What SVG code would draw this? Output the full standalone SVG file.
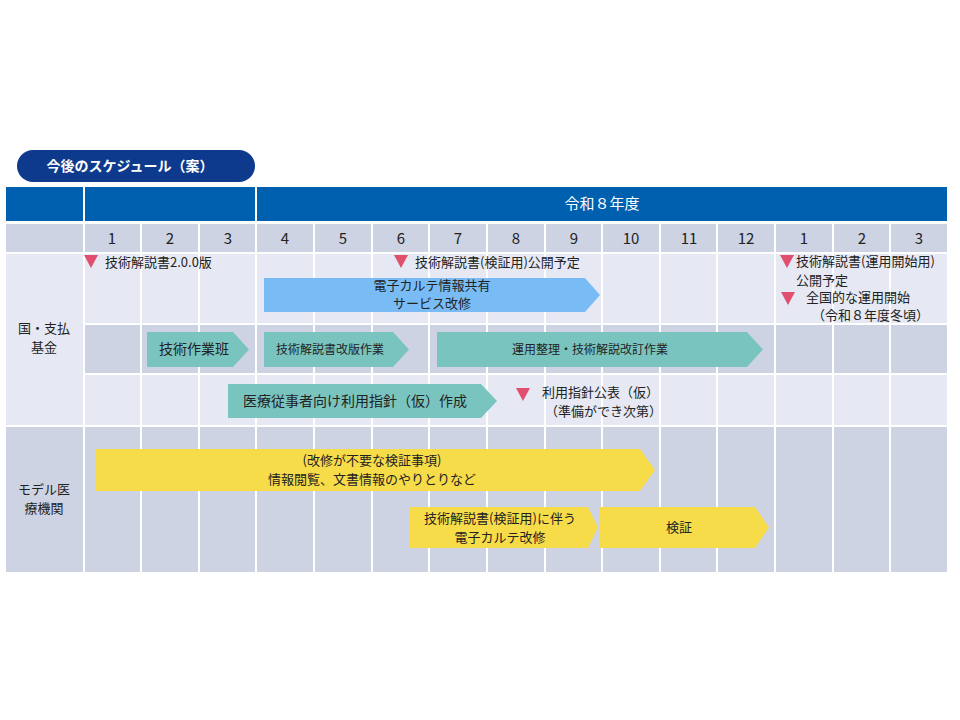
<svg xmlns="http://www.w3.org/2000/svg" width="960" height="720" viewBox="0 0 960 720">
<style>
text{font-family:"Noto Sans CJK JP","Noto Sans",sans-serif;fill:#222;font-size:13px}
.m{font-size:15px;text-anchor:middle}
.c{text-anchor:middle}
.lt{fill:#e6e9f3}.dk{fill:#cdd3e3}
.teal{fill:#7ac4c0}.yel{fill:#f7dc4a}.blu{fill:#79bcf5}.tri{fill:#e0506e}
</style>
<rect width="960" height="720" fill="#fff"/>
<g id="title"><rect x="17" y="150" width="238" height="32" rx="16" fill="#0d3a8c"/><text x="130" y="171" class="c" style="fill:#fff;font-weight:bold;font-size:14px">今後のスケジュール（案）</text></g>
<g id="grid">
<rect x="6" y="187" width="77" height="34" fill="#0060b0"/><rect x="85" y="187" width="170" height="34" fill="#0060b0"/><rect x="257" y="187" width="690" height="34" fill="#0060b0"/>
<text x="602" y="209" class="c" style="fill:#fff;font-size:15px">令和８年度</text>
<rect x="6" y="224" width="941" height="28" class="dk"/>
<rect x="6" y="254" width="77" height="171" class="lt"/>
<rect x="6" y="427" width="77" height="145" class="dk"/>
<rect x="84" y="254" width="863" height="69" class="lt"/>
<rect x="84" y="325" width="863" height="48" class="dk"/>
<rect x="84" y="375" width="863" height="50" class="lt"/>
<rect x="84" y="427" width="863" height="145" class="dk"/>
<g stroke="#fff" stroke-width="2">
<line x1="84" y1="187" x2="84" y2="572"/><line x1="256" y1="187" x2="256" y2="572"/>
<line x1="141" y1="224" x2="141" y2="572"/><line x1="199" y1="224" x2="199" y2="572"/><line x1="314" y1="224" x2="314" y2="572"/><line x1="372" y1="224" x2="372" y2="572"/><line x1="429" y1="224" x2="429" y2="572"/><line x1="487" y1="224" x2="487" y2="572"/><line x1="545" y1="224" x2="545" y2="572"/><line x1="602" y1="224" x2="602" y2="572"/><line x1="660" y1="224" x2="660" y2="572"/><line x1="717" y1="224" x2="717" y2="572"/><line x1="775" y1="224" x2="775" y2="572"/><line x1="833" y1="224" x2="833" y2="572"/><line x1="890" y1="224" x2="890" y2="572"/>
</g>
<text x="112" y="244" class="m">1</text><text x="170" y="244" class="m">2</text><text x="228" y="244" class="m">3</text><text x="285" y="244" class="m">4</text><text x="343" y="244" class="m">5</text><text x="401" y="244" class="m">6</text><text x="458" y="244" class="m">7</text><text x="516" y="244" class="m">8</text><text x="574" y="244" class="m">9</text><text x="631" y="244" class="m">10</text><text x="689" y="244" class="m">11</text><text x="746" y="244" class="m">12</text><text x="804" y="244" class="m">1</text><text x="862" y="244" class="m">2</text><text x="919" y="244" class="m">3</text>
<text x="44" y="333" class="c">国・支払</text><text x="44" y="352" class="c">基金</text>
<text x="44" y="494" class="c">モデル医</text><text x="44" y="513" class="c">療機関</text>
</g>
<g id="bars">
<polygon class="blu" points="264,278 585,278 600,295 585,312 264,312"/>
<text x="432" y="290" class="c">電子カルテ情報共有</text><text x="432" y="308" class="c">サービス改修</text>
<polygon class="teal" points="147,332 233,332 249,349.5 233,367 147,367"/><text x="194" y="354" class="c" style="font-size:14px">技術作業班</text>
<polygon class="teal" points="264,332 393,332 409,349.5 393,367 264,367"/><text x="330" y="354" class="c" style="font-size:12px">技術解説書改版作業</text>
<polygon class="teal" points="437,332 747,332 763,349.5 747,367 437,367"/><text x="590" y="354" class="c" style="font-size:12px">運用整理・技術解説改訂作業</text>
<polygon class="teal" points="228,384 481,384 497,401 481,418 228,418"/><text x="355" y="406" class="c" style="font-size:14px">医療従事者向け利用指針（仮）作成</text>
<polygon class="yel" points="96,449 640,449 655,470 640,491 96,491"/>
<text x="372" y="465" class="c">(改修が不要な検証事項)</text><text x="372" y="484" class="c">情報閲覧、文書情報のやりとりなど</text>
<polygon class="yel" points="410,507 588,507 598,527.5 588,548 410,548"/>
<text x="500" y="523" class="c">技術解説書(検証用)に伴う</text><text x="500" y="542" class="c">電子カルテ改修</text>
<polygon class="yel" points="600,507 755,507 769,527.5 755,548 600,548"/><text x="679" y="532" class="c">検証</text>
</g>
<g id="milestones">
<polygon class="tri" points="84,255 98,255 91,268"/><text x="105" y="267">技術解説書2.0.0版</text>
<polygon class="tri" points="394,255 408,255 401,268"/><text x="415" y="267">技術解説書(検証用)公開予定</text>
<polygon class="tri" points="780,255 794,255 787,268"/><text x="796" y="266">技術解説書(運用開始用)</text><text x="796" y="285">公開予定</text>
<polygon class="tri" points="781,292 795,292 788,305"/><text x="806" y="302">全国的な運用開始</text><text x="812" y="320">（令和８年度冬頃）</text>
<polygon class="tri" points="516,388 530,388 523,401"/><text x="542" y="397">利用指針公表（仮）</text><text x="545" y="416">（準備ができ次第）</text>
</g>
</svg>
